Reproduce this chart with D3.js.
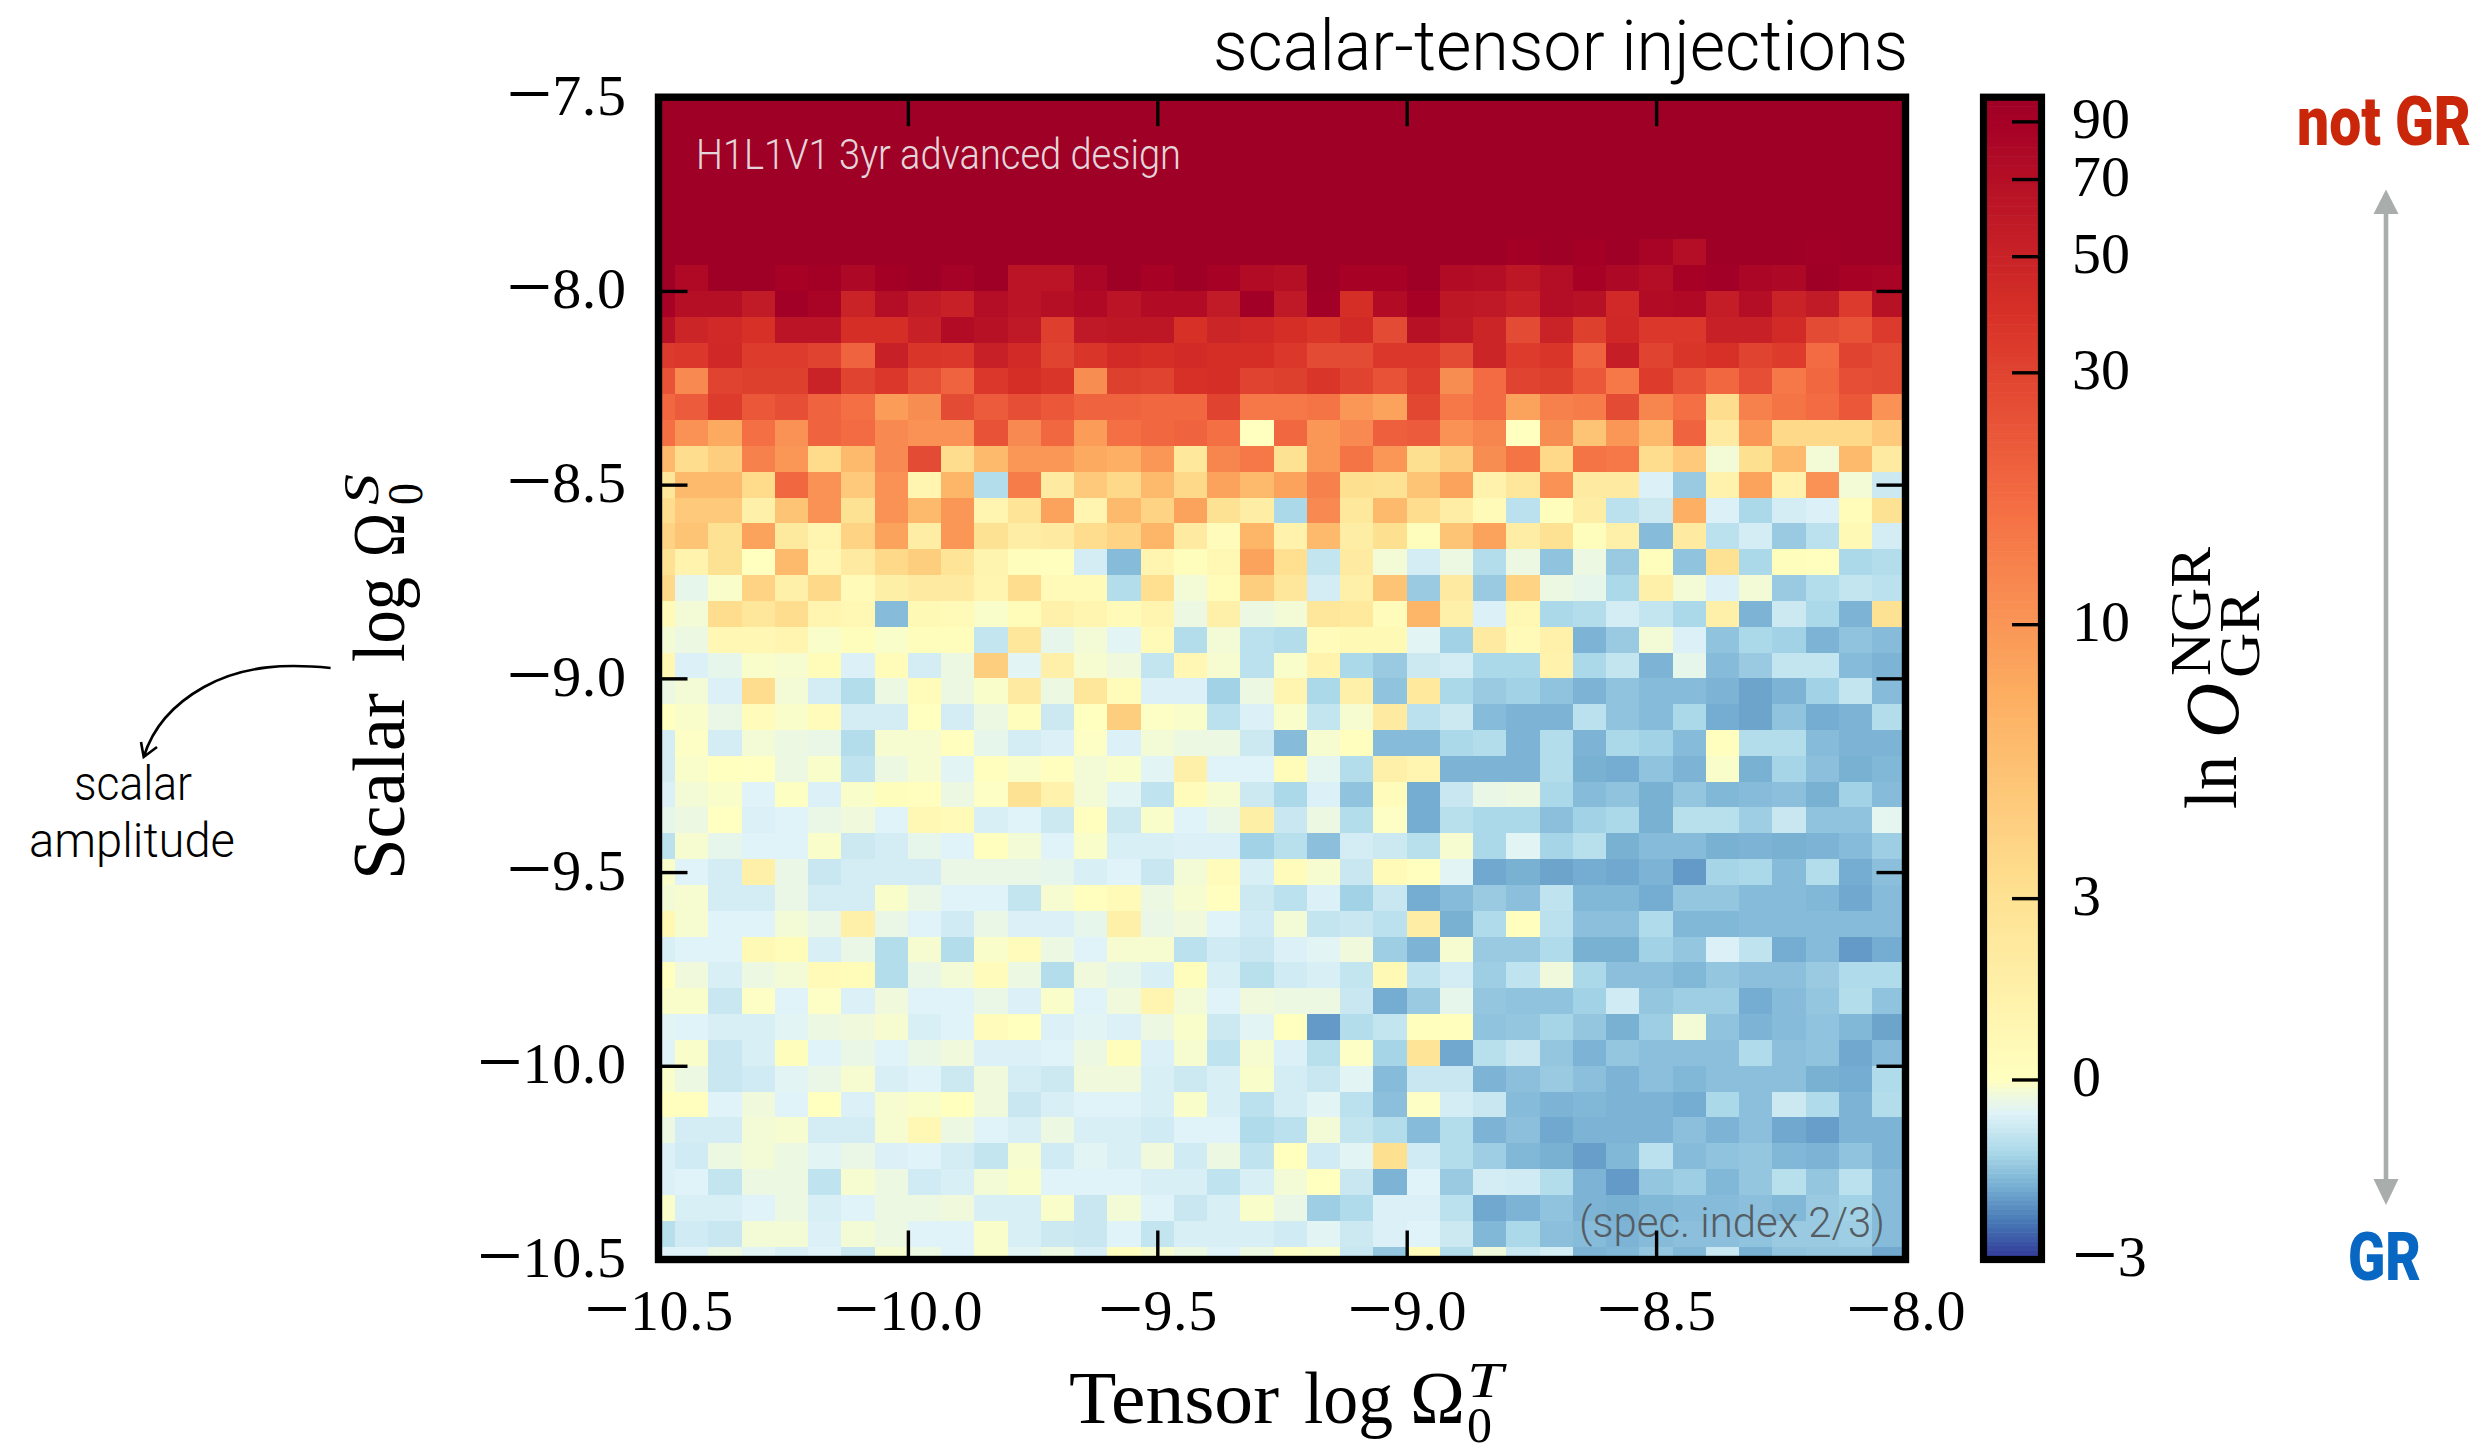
<!DOCTYPE html>
<html>
<head>
<meta charset="utf-8">
<script src="https://cdn.jsdelivr.net/npm/d3@7"></script>
<style>
  html, body { margin: 0; padding: 0; background: #fff; }
  svg { display: block; }
  .cm { font-family: "Liberation Serif", serif; fill: #000; }
  .axis text { font-family: "Liberation Serif", serif; font-size: 58px; fill: #000; }
  .axis path { display: none; }
  .axis line { stroke: #000; stroke-width: 3.4px; }
</style>
</head>
<body>
<svg id="chart" width="2487" height="1456"></svg>
<script>
// tick labels
const tensorTicks = [-10.5, -10, -9.5, -9, -8.5, -8];
const scalarTicks = [-10.5, -10, -9.5, -9, -8.5, -8, -7.5];
const cbarTicks = [-3, 0, 3, 10, 30, 50, 70, 90];
// colorbar is not linear, position (0-1) of each value
const cbarValues = [-3, 0, 3, 10, 30, 50, 70, 90, 100];
const cbarFrac = [0, 0.1549, 0.3109, 0.5466, 0.7633, 0.8632, 0.9296, 0.9792, 1];
const rdylbu = ["#313695","#4575b4","#74add1","#abd9e9","#e0f3f8","#ffffbf","#fee090","#fdae61","#f46d43","#d73027","#a50026"];

// ln O per cell, top row (scalar -7.5) first, tensor -10.5 on the left
const lnOdds = [
[100,100,100,100,100,100,100,100,100,100,100,100,100,100,100,100,100,100,100,100,100,100,100,100,100,100,100,100,100,100,100,100,100,100,100,100,100,100],
[100,100,100,100,100,100,100,100,100,100,100,100,100,100,100,100,100,100,100,100,100,100,100,100,100,100,100,100,100,100,100,100,100,100,100,100,100,100],
[100,100,100,100,100,100,100,100,100,100,100,100,100,100,100,100,100,100,100,100,100,100,100,100,100,100,100,100,100,100,100,100,100,100,100,100,100,100],
[100,100,100,100,100,100,100,100,100,100,100,100,100,100,100,100,100,100,100,100,100,100,100,100,100,100,100,100,100,100,100,100,100,100,100,100,100,100],
[100,100,100,100,100,100,100,100,100,100,100,100,100,100,100,100,100,100,100,100,100,100,100,100,100,100,100,100,100,100,100,100,100,100,100,100,100,100],
[100,100,100,100,100,100,100,100,100,100,100,100,100,100,100,100,100,100,100,100,100,100,100,100,100,100,100,100,100,100,100,100,100,100,100,100,100,100],
[100,100,100,100,100,100,100,100,100,100,100,100,100,100,100,100,100,100,100,100,100,100,100,100,100,100,92,100,92,100,85,72,100,100,100,95,100,100],
[100,78,100,100,88,92,80,92,100,90,100,65,65,82,100,88,100,88,75,70,100,88,88,100,75,72,62,72,88,80,72,88,95,82,80,100,88,85],
[88,70,70,58,95,85,50,72,58,52,72,65,70,78,65,75,75,58,95,60,95,42,75,88,62,60,52,72,68,45,75,78,55,72,50,58,35,68],
[68,48,45,40,65,65,42,42,52,75,68,60,33,60,62,62,40,48,46,42,38,44,28,68,60,48,28,50,32,46,36,36,52,52,44,28,26,35],
[35,36,46,34,34,30,22,52,38,36,52,44,30,38,44,42,44,42,42,36,28,28,36,36,28,48,34,38,22,54,30,38,40,30,34,20,30,28],
[26,13,30,32,32,50,30,36,27,22,36,42,38,12,32,30,40,42,30,32,38,30,26,33,12,20,30,32,25,17,34,26,21,27,17,21,27,28],
[21,24,34,25,27,22,19,9.5,12,28,24,27,25,22,22,21,21,30,17,17,18,10,9,29,17,20,9,15,16,28,14,19,3.5,15,18,20,25,11],
[19,11,8.5,19,11,22,20,13,11,11,26,13,21,9.5,19,21,22,19,0,21,10,13,23,24,11,14,0,12,6,10,7,22,2,10,4,4,4,5.5],
[7,3.5,5,15,10,3.7,7,13,28,3.5,7,10,10,8.5,8,10,2.4,14,17,3,10,18,10,3.2,5,12,18,4,18,17,3.5,5.5,-0.2,3.2,7,-0.2,7,2],
[2.5,7,7,3.7,21,11,5.5,11,1,7.5,-1.1,16,2,5.5,4,7,4,9,7,9,15,3.2,3,6,9,1.3,2.5,11,2,2,-0.6,-1.4,1.3,9,1.3,11,-0.2,-0.8],
[3.5,5.5,5.5,1.5,6,11,3,11,7,10,1,2.8,9,1,7,4.5,9,3,1.8,-1.2,13,2.4,7,3.5,1.8,0.5,-1,0.2,1.8,-1,-0.8,8,-0.6,-1.2,-0.7,-0.6,0.4,3],
[4.5,6,3,9,2.2,1,4.5,9,1.8,10,3,1.8,2,3.5,4.5,7.5,2,0.3,7.5,1.3,7,1.8,3.2,0.2,6,9,1.8,3,0.2,1.5,-1.6,2,-1,-0.7,-1.4,-1,0.6,-0.7],
[3,1.2,3,0,7,0.8,2,4,5,2.8,1.1,0.2,0.1,-0.7,-1.6,1,0.2,0.7,9,3.3,-0.9,2,-0.2,-0.7,-0.3,-1.1,-0.3,-1.5,-0.3,-1.4,0.2,-1.5,3,-1.2,0.2,0.1,-1.2,-1.1],
[4,-0.4,-0.1,4.5,1.5,4,0.5,1.6,2,2,1,3.5,0.5,0.5,-1.1,3.3,-0.2,0.4,5,2.5,-0.7,1.5,6,-1.4,2,-1.4,4.5,-0.3,-0.4,-1.2,1.5,-0.2,-0.6,-0.2,-1.4,-1.1,-0.9,-1],
[0.5,-0.2,3.5,2.5,3.5,1,0.7,-1.6,0.6,0.5,-0.1,0.4,1.4,1,0.5,1,-0.3,1.5,-0.3,-0.2,2.5,2.3,0.3,7.5,1.5,-0.6,0.7,-1.2,-1.1,-0.7,-0.9,-1.2,1.5,-1.7,-0.8,-1.2,-1.7,3],
[-0.2,-0.3,0.8,0.8,1,-0.1,0.2,-0.1,0.2,0.2,-0.9,2.5,-0.4,-0.2,-0.5,0.5,-1.1,-0.2,-1,-1.1,0.3,0.6,0.6,-0.5,-1.3,2,0.5,1.4,-1.7,-1.4,-0.2,-0.6,-1.5,-1.2,-1.3,-1.7,-1.5,-1.6],
[0.8,-0.6,-0.4,-0.1,-0.15,0.4,-0.6,0.4,-0.7,-0.3,5,-0.5,1.5,-0.15,-0.25,-0.9,0.8,-0.15,-1,-0.1,1.2,-1.2,-1.4,-0.8,-0.7,-1.2,-1.2,1.3,-1.2,-0.9,-1.7,-0.4,-1.6,-1.4,-0.9,-0.9,-1.6,-1.7],
[-0.3,-0.2,-0.6,3.5,-0.2,-0.7,-1.1,-0.3,0.4,-0.3,-0.1,2,-0.3,2.5,0.4,-0.6,-0.6,-1.3,-0.3,1,-1.2,1.5,-1.5,2.3,-1.2,-1.4,-1.3,-1.5,-1.7,-1.5,-1.6,-1.6,-1.7,-1.9,-1.7,-1.3,-0.9,-1.6],
[0,-0.1,-0.35,0.3,-0.1,0.3,-0.7,-0.7,0,-0.7,-0.3,0.2,-0.8,0,5,-0.05,-0.1,-1,-0.6,-0.1,-0.9,-0.15,2,-1,-0.8,-1.6,-1.7,-1.7,-1,-1.5,-1.6,-1.2,-1.8,-1.9,-1.5,-1.8,-1.7,-1.1],
[-0.7,-0.05,-0.7,-0.2,-0.3,-0.35,-1.1,-0.15,-0.15,0.1,-0.4,-0.7,-0.6,-0.05,-0.6,-0.2,-0.3,-0.3,-0.8,-1.6,-0.15,0.1,-1.6,-1.6,-1.2,-1.1,-1.7,-1.1,-1.7,-1.2,-1.3,-1.6,0.1,-1.1,-1.1,-1.6,-1.7,-1.7],
[-0.7,-0.1,0,-0.02,-0.3,-0.1,-0.95,-0.3,-0.15,-0.5,0.1,-0.1,0.1,-0.2,-0.1,-0.5,1.5,-0.55,-0.55,0.4,-0.45,-1.1,1.5,1,-1.7,-1.7,-1.7,-1.1,-1.75,-1.8,-1.5,-1.7,-0.1,-1.75,-1.25,-1.55,-1.75,-1.65],
[-0.6,-0.2,-0.1,-0.55,-0.03,-0.6,-0.1,0.2,0.1,-0.3,-0.05,3,1.3,-0.2,-0.5,-0.95,0.3,-0.15,-0.8,-1.2,-0.6,-1.5,0.3,-1.8,-0.85,-0.35,-0.3,-1.2,-1.6,-1.5,-1.75,-1.45,-1.65,-1.6,-1.55,-1.75,-1.3,-1.6],
[-0.4,-0.3,-0.02,-0.6,-0.55,-0.35,-0.25,-0.55,0.7,0.5,-0.65,-0.55,-0.8,0.1,-0.8,-0.1,-0.55,-0.35,1.6,-0.85,-0.3,-1.1,-0.05,-1.8,-1.05,-1.2,-1.2,-1.55,-1.3,-1.2,-1.75,-1.05,-1.05,-1.35,-0.85,-1.5,-1.5,-0.45],
[-1,-0.15,-0.4,-0.55,-0.55,-0.1,-0.8,-0.7,-0.4,-0.55,0.1,-0.2,-0.55,-0.1,-0.65,-0.65,-0.6,-0.6,-1.3,-1.05,-1.55,-0.7,-0.8,-1.05,-0.15,-1.2,-0.5,-1.25,-1.05,-1.75,-1.6,-1.6,-1.75,-1.7,-1.75,-1.7,-1.6,-1.35],
[-0.1,-0.55,-0.7,1.5,-0.35,-0.85,-0.7,-0.7,-0.7,-0.35,-0.35,-0.35,-0.4,-0.65,-0.55,-0.85,-0.2,0.3,-0.65,0.3,-0.15,-0.85,0.5,0.1,-0.5,-1.85,-1.75,-1.9,-1.8,-1.85,-1.7,-2,-1.25,-1.2,-1.6,-1.1,-1.8,-1.55],
[-0.2,-0.15,-0.7,-0.7,-0.35,-0.7,-0.7,-0.1,-0.35,-0.55,-0.55,-0.9,-0.15,0.1,0.5,-0.3,-0.15,0.1,-0.8,-1,-0.6,-1.3,-0.85,-1.8,-1.6,-1.4,-1.55,-0.95,-1.65,-1.65,-1.8,-1.45,-1.45,-1.6,-1.6,-1.65,-1.85,-1.6],
[0.7,-0.15,-0.55,-0.55,-0.2,-0.35,1.5,-0.35,-0.55,-0.75,-0.35,-0.6,-0.6,-0.4,1.5,-0.35,-0.25,-0.55,-0.75,-0.2,-0.9,-0.85,-1,1.8,-1.75,-1.15,0.1,-1,-1.55,-1.55,-1.15,-1.65,-1.65,-1.6,-1.6,-1.6,-1.6,-1.6],
[-0.65,-0.55,-0.55,0.6,0.4,-0.65,-0.35,-1.1,-0.15,-1.1,-0.1,0.3,-0.3,-0.55,-0.15,-0.15,-1,-0.75,-0.85,-0.6,-0.5,-0.25,-1.35,-1.7,-0.15,-1.4,-1.4,-1.15,-1.75,-1.75,-1.3,-1.45,-0.6,-0.95,-1.8,-1.6,-2,-1.8],
[0,-0.25,-0.65,-0.3,-0.2,0.5,0.4,-1.1,-0.35,-0.2,0.3,-0.3,-1.1,-0.25,-0.4,-0.65,0.2,-0.65,-1.05,-0.75,-0.65,-0.9,0.6,-0.95,-0.7,-1.35,-0.95,-0.25,-1.2,-1.55,-1.55,-1.65,-1.45,-1.55,-1.55,-1.4,-1.15,-1.15],
[-0.1,-0.1,-0.85,-0.05,-0.55,-0.05,-0.6,-0.25,-0.55,-0.55,-0.35,-0.6,-0.1,-0.55,-0.25,1,-0.2,-0.55,-0.25,-0.3,-0.3,-0.85,-1.8,-1.4,-0.4,-1.45,-1.5,-1.5,-1.3,-0.75,-1.45,-1.35,-1.35,-1.8,-1.6,-1.45,-1.1,-1.5],
[-0.5,-0.55,-0.65,-0.65,-0.5,-0.3,-0.25,-0.15,-0.65,-0.55,0.3,0.05,-0.6,-0.5,-0.6,-0.3,-0.1,-0.8,-0.5,0,-2,-1.1,-0.9,0.15,0.15,-1.5,-1.45,-1.25,-1.45,-1.75,-1.35,-0.2,-1.5,-1.7,-1.6,-1.5,-1.65,-1.9],
[-0.55,-0.1,-0.85,-0.65,0.2,-0.55,-0.35,-0.55,-0.35,-0.25,-0.6,-0.6,-0.55,-0.3,0.2,-0.6,-0.15,-0.95,-0.15,-0.6,-1.05,-0.05,-1.25,2.8,-1.85,-1.05,-0.85,-1.45,-1.7,-1.45,-1.55,-1.55,-1.55,-1.15,-1.55,-1.5,-1.85,-1.6],
[-0.1,-0.3,-0.85,-0.75,-0.5,-0.35,-0.15,-0.65,-0.55,-0.8,-0.25,-0.7,-0.8,-0.25,-0.25,-0.65,-0.8,-0.65,-0.1,-0.7,-0.85,-0.5,-1.6,-0.85,-0.85,-1.7,-1.55,-1.4,-1.55,-1.7,-1.55,-1.65,-1.55,-1.55,-1.55,-1.75,-1.8,-1.15],
[0.1,0.1,-0.55,-0.25,-0.55,0,-0.6,-0.15,-0.1,0.05,-0.25,-0.85,-0.65,-0.55,-0.55,-0.65,-0.1,-0.65,-1,-0.7,-0.5,-1,-1.55,-0.05,-0.7,-0.85,-1.6,-1.7,-1.65,-1.7,-1.7,-1.8,-1.2,-1.55,-0.8,-1.15,-1.7,-1.1],
[-0.3,-0.7,-0.7,-0.2,-0.15,-0.7,-0.7,-0.15,0.7,-0.3,-0.55,-0.65,-0.3,-0.65,-0.65,-0.75,-0.55,-0.55,-1.15,-1,-0.2,-0.9,-1.1,-1.6,-1.1,-1.7,-1.55,-1.85,-1.7,-1.7,-1.7,-1.55,-1.7,-1.55,-1.85,-1.95,-1.7,-1.7],
[-0.6,-0.75,-0.3,-0.2,-0.3,-0.5,-0.35,-0.6,-0.55,-0.7,-0.9,-0.15,-0.75,-0.5,-0.65,-0.25,-0.75,-0.3,-0.95,0.05,-0.75,-0.5,3.2,-0.75,-1.1,-1.35,-1.65,-1.75,-1.95,-1.65,-1,-1.6,-1.5,-1.45,-1.65,-1.7,-1.5,-1.7],
[-0.6,-0.55,-0.9,-0.3,-0.3,-0.95,-0.15,-0.3,-0.75,-0.65,-0.2,-0.1,-0.55,-0.55,-0.55,-0.65,-0.65,-0.95,-0.65,-0.2,0,-0.85,-1.7,-0.55,-1.4,-0.7,-0.75,-1.1,-1.7,-2,-1.45,-1.35,-1.65,-1.45,-1.05,-1.45,-1,-1.6],
[-0.1,-0.65,-0.65,-0.55,-0.3,-0.65,-0.55,-0.3,-0.3,-0.25,-0.65,-0.65,-0.1,-0.85,-0.2,-0.55,-0.85,-0.65,-0.1,-0.35,-1.35,-1.15,-0.6,-0.6,-1,-1.85,-1.7,-1.5,-1.7,-1.75,-1.65,-1.6,-1.6,-1.55,-1.65,-1.4,-1.3,-1.6],
[-1.05,-0.75,-0.85,-0.2,-0.2,-0.6,-0.2,-0.3,-0.55,-0.55,-0.1,-0.65,-0.8,-0.85,-0.55,-0.9,-0.65,-0.65,-0.65,-0.75,-0.5,-0.8,-0.6,-0.55,-0.8,-1.65,-1.2,-1.55,-1.6,-1.7,-1.6,-1.55,-1.55,-1.5,-1.4,-1.4,-1.35,-1.6],
[-0.55,-0.55,-0.3,-0.5,-0.65,-0.55,-0.85,-0.15,-0.3,-0.55,-0.1,-0.5,-0.3,-0.65,0.1,-0.15,-0.3,-0.55,-0.3,-0.05,-0.1,-0.85,-1.45,0.4,-1.1,-0.25,-0.85,-0.7,-1.7,-1.65,-1.45,-1.65,-0.85,-1.75,-1.5,-1.45,-1.45,-1.85]
];

const svg = d3.select("#chart");

const x = d3.scaleLinear().domain([-10.5, -8]).range([658.5, 1905.5]).clamp(true);
const y = d3.scaleLinear().domain([-10.5, -7.5]).range([1259.5, 97.2]).clamp(true);
const step = 1 / 15;

// value -> colour, same mapping as the colorbar.
// pale end of the blues sits closer to zero than a straight line from -3 would give
const valToFrac = d3.scaleLinear().domain(cbarValues).range(cbarFrac);
const fracToPos = d3.scaleLinear()
  .domain([0, 1.8, 2.45, 2.7, 3, 19].map(v => v * 0.1549 / 3))
  .range([0, 0.3, 0.4, 0.44, 0.5, 1]);
const palette = d3.scaleLinear().domain(d3.range(11).map(i => i / 10)).range(rdylbu);
const color = v => palette(fracToPos(valToFrac(v)));

const nRows = lnOdds.length;
const cells = [];
lnOdds.forEach((row, r) => row.forEach((v, c) => {
  cells.push({ xc: -10.5 + c * step, yc: -10.5 + (nRows - 1 - r) * step, v: v });
}));

svg.append("g").selectAll("rect")
  .data(cells)
  .join("rect")
    .attr("x", d => x(d.xc - step / 2))
    .attr("y", d => y(d.yc + step / 2))
    .attr("width", d => x(d.xc + step / 2) - x(d.xc - step / 2))
    .attr("height", d => y(d.yc - step / 2) - y(d.yc + step / 2))
    .attr("fill", d => color(d.v))
    .attr("shape-rendering", "crispEdges");

// sans text, squeezed to the width in the picture
function note(px, py, str, size, len, weight, col, anchor) {
  svg.append("text").attr("x", px).attr("y", py)
    .attr("text-anchor", anchor || "start")
    .attr("textLength", len).attr("lengthAdjust", "spacingAndGlyphs")
    .style("font-family", "Roboto, sans-serif").style("font-size", size + "px")
    .style("font-weight", weight).style("font-variant-ligatures", "none")
    .style("fill", col).text(str);
}

// in-plot notes
note(696, 169, "H1L1V1 3yr advanced design", 43, 485, 300, "#e3d6da");
note(1579, 1237, "(spec. index 2/3)", 43, 306, 300, "#565c63");

// wider minus like computer modern
function wideMinus(sel) {
  sel.selectAll("text").each(function() {
    const t = d3.select(this), s = t.text();
    if (s[0] !== "\u2212") return;
    // tspan dy would replace the dy of the text, so move it into y first
    const d = t.attr("dy") || "0";
    const shift = parseFloat(d) * (d.endsWith("em") ? 58 : 1);
    t.attr("y", (+t.attr("y") || 0) + shift).attr("dy", null);
    t.text(null);
    t.append("tspan").style("font-size", "81px").attr("dy", "6px").text("\u2212");
    t.append("tspan").attr("dy", "-6px").style("letter-spacing", "0.6px").text(s.slice(1));
  });
}
const fmt = d3.format(".1f");
const lab = v => fmt(v).replace("-", "\u2212");

svg.append("g").attr("class", "axis").attr("transform", "translate(0,1259.5)")
  .call(d3.axisBottom(x).tickValues(tensorTicks).tickSize(-29).tickPadding(29.5).tickFormat(lab))
  .call(wideMinus);
svg.append("g").attr("class", "axis").attr("transform", "translate(0,97.2)")
  .call(d3.axisTop(x).tickValues(tensorTicks).tickSize(-29).tickFormat(""))
  .call(g => g.selectAll("text").remove());
svg.append("g").attr("class", "axis").attr("transform", "translate(658.5,0)")
  .call(d3.axisLeft(y).tickValues(scalarTicks).tickSize(-29).tickPadding(32).tickFormat(lab))
  .call(g => g.selectAll("text").attr("dy", "17px"))
  .call(wideMinus);
svg.append("g").attr("class", "axis").attr("transform", "translate(1905.5,0)")
  .call(d3.axisRight(y).tickValues(scalarTicks).tickSize(-29).tickFormat(""))
  .call(g => g.selectAll("text").remove());

svg.append("rect").attr("x", 658.5).attr("y", 97.2).attr("width", 1247).attr("height", 1162.3)
  .attr("fill", "none").attr("stroke", "#000").attr("stroke-width", 7.4);

// title
note(1213, 70, "scalar-tensor injections", 70, 695, 300, "#000");

// colorbar
const cbarY = d3.scaleLinear().domain(cbarValues).range(cbarFrac.map(f => 1259.5 - f * 1162.3));
const bands = d3.range(256).map(i => i / 256);
svg.append("g").selectAll("rect")
  .data(bands)
  .join("rect")
    .attr("x", 1983.5).attr("width", 58)
    .attr("y", d => 1259.5 - (d + 1 / 256) * 1162.3)
    .attr("height", 1162.3 / 256 + 0.6)
    .attr("fill", d => palette(fracToPos(d + 0.5 / 256)));
svg.append("g").attr("class", "axis").attr("transform", "translate(2041.5,0)")
  .call(d3.axisRight(cbarY).tickValues(cbarTicks).tickSize(-29.5).tickPadding(30.5)
    .tickFormat(v => String(v).replace("-", "\u2212")))
  .call(g => g.selectAll("text").attr("dy", "16px"))
  .call(wideMinus);
svg.append("rect").attr("x", 1983.5).attr("y", 97.2).attr("width", 58).attr("height", 1162.3)
  .attr("fill", "none").attr("stroke", "#000").attr("stroke-width", 7.2);

// axis titles, put together from pieces since there is no tex here
function piece(px, py, str, size, len, rot, italic) {
  const t = svg.append("text").attr("class", "cm")
    .attr("transform", `translate(${px},${py})` + (rot ? " rotate(-90)" : ""))
    .style("font-size", size + "px")
    .style("font-style", italic ? "italic" : "normal")
    .text(str);
  if (len) t.attr("textLength", len).attr("lengthAdjust", "spacingAndGlyphs");
}
piece(1069, 1423, "Tensor", 74, 210);
piece(1304, 1423, "log", 74, 89);
piece(1410, 1423, "\u03a9", 74, 55);
piece(1467, 1397, "T", 51, 36, false, true);
piece(1467, 1442, "0", 51, 25);

piece(404, 880, "Scalar", 74, 187, true);
piece(404, 662, "log", 74, 85, true);
piece(404, 557, "\u03a9", 74, 44, true);
piece(377.5, 505, "S", 51, 31, true, true);
piece(422, 505, "0", 51, 22, true);

piece(2236, 809, "ln", 74, 53, true);
piece(2238, 738, "O", 76, 55, true, true);
piece(2210, 676, "NGR", 58, 129, true);
piece(2259, 678, "GR", 58, 87, true);

// left note and its curved arrow
svg.append("path")
  .attr("d", "M330.6,668 C290,664 245,664 204,687 C170,706 152,730 143.7,757 M141,742 L143.7,757 L157,747")
  .attr("fill", "none").attr("stroke", "#000").attr("stroke-width", 2.6);
note(133, 800, "scalar", 48, 118, 300, "#000", "middle");
note(132, 857, "amplitude", 48, 206, 300, "#000", "middle");

// right side not GR / GR
svg.append("line").attr("x1", 2386).attr("x2", 2386).attr("y1", 210).attr("y2", 1185)
  .attr("stroke", "#a9adac").attr("stroke-width", 4.6);
svg.append("path").attr("d", "M2386,189.5 L2398.5,214 L2373.5,214 Z").attr("fill", "#a9adac");
svg.append("path").attr("d", "M2386,1205 L2398.5,1179 L2373.5,1179 Z").attr("fill", "#a9adac");
note(2297, 145, "not GR", 68, 174, 900, "#c9260a");
note(2348, 1280, "GR", 66, 73, 900, "#0767c2");
</script>
</body>
</html>
